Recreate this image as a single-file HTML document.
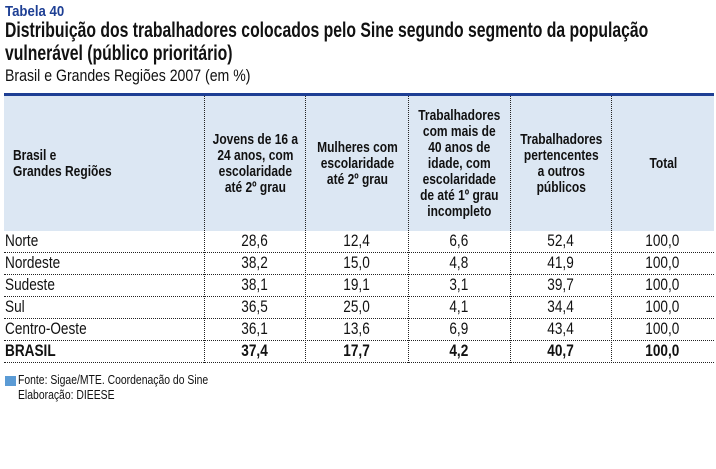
<!DOCTYPE html>
<html><head><meta charset="utf-8"><style>
*{margin:0;padding:0}
body{width:716px;height:469px;background:#fff;position:relative;overflow:hidden;font-family:"Liberation Sans",sans-serif;color:#111}
.a{position:absolute;white-space:nowrap;transform-origin:0 0}
.hd{position:absolute;top:96px;height:135px;background:#dce7f3;left:4px;width:710px}
.vl{position:absolute;top:96px;height:267px;border-left:1px dotted #222}
.hl{position:absolute;left:4px;width:710px;border-top:1px dotted #222}
.h{position:absolute;text-align:center;font-weight:bold;font-size:15px;line-height:16px;display:flex;align-items:center;justify-content:center;top:96px;height:135px;white-space:nowrap}
.h>div{transform:scaleX(.8)}
.r{position:absolute;font-size:17px;height:22px;line-height:22px;white-space:nowrap}
.r>i{font-style:normal;display:inline-block;transform:scaleX(.8);transform-origin:0 50%}
.n{text-align:center}
.n>i{transform-origin:50% 50%}
</style></head><body>
<div class="a" style="left:5px;top:3px;font-size:15px;font-weight:bold;color:#1e3f94;transform:scaleX(.88)">Tabela 40</div>
<div class="a" style="left:5px;top:19px;font-size:21px;font-weight:bold;line-height:23px;transform:scaleX(.75)">Distribuição dos trabalhadores colocados pelo Sine segundo segmento da população<br>vulnerável (público prioritário)</div>
<div class="a" style="left:5px;top:66px;font-size:17px;transform:scaleX(.83)">Brasil e Grandes Regiões 2007 (em %)</div>
<div class="a" style="left:4px;top:93px;width:710px;height:3px;background:#1e3f94"></div>
<div class="hd"></div>
<div class="vl" style="left:204px"></div>
<div class="vl" style="left:305px"></div>
<div class="vl" style="left:408px"></div>
<div class="vl" style="left:510px"></div>
<div class="vl" style="left:611px"></div>
<div class="h" style="left:13px;width:190px;justify-content:flex-start;text-align:left"><div style="transform-origin:0 50%">Brasil e<br>Grandes Regiões</div></div>
<div class="h" style="left:205px;width:100px"><div>Jovens de 16 a<br>24 anos, com<br>escolaridade<br>até 2º grau</div></div>
<div class="h" style="left:306px;width:102px"><div>Mulheres com<br>escolaridade<br>até 2º grau</div></div>
<div class="h" style="left:409px;width:101px"><div>Trabalhadores<br>com mais de<br>40 anos de<br>idade, com<br>escolaridade<br>de até 1º grau<br>incompleto</div></div>
<div class="h" style="left:511px;width:100px"><div>Trabalhadores<br>pertencentes<br>a outros<br>públicos</div></div>
<div class="h" style="left:612px;width:102px"><div>Total</div></div>
<div class="hl" style="top:252px"></div>
<div class="hl" style="top:274px"></div>
<div class="hl" style="top:296px"></div>
<div class="hl" style="top:318px"></div>
<div class="hl" style="top:340px"></div>
<div class="hl" style="top:362px"></div>
<div style="position:absolute;left:0;top:230px;width:716px">
<div style="position:relative;height:22px"><span class="r" style="left:5px"><i>Norte</i></span><span class="r n" style="left:204px;width:101px"><i>28,6</i></span><span class="r n" style="left:305px;width:103px"><i>12,4</i></span><span class="r n" style="left:408px;width:102px"><i>6,6</i></span><span class="r n" style="left:510px;width:101px"><i>52,4</i></span><span class="r n" style="left:611px;width:103px"><i>100,0</i></span></div>
<div style="position:relative;height:22px"><span class="r" style="left:5px"><i>Nordeste</i></span><span class="r n" style="left:204px;width:101px"><i>38,2</i></span><span class="r n" style="left:305px;width:103px"><i>15,0</i></span><span class="r n" style="left:408px;width:102px"><i>4,8</i></span><span class="r n" style="left:510px;width:101px"><i>41,9</i></span><span class="r n" style="left:611px;width:103px"><i>100,0</i></span></div>
<div style="position:relative;height:22px"><span class="r" style="left:5px"><i>Sudeste</i></span><span class="r n" style="left:204px;width:101px"><i>38,1</i></span><span class="r n" style="left:305px;width:103px"><i>19,1</i></span><span class="r n" style="left:408px;width:102px"><i>3,1</i></span><span class="r n" style="left:510px;width:101px"><i>39,7</i></span><span class="r n" style="left:611px;width:103px"><i>100,0</i></span></div>
<div style="position:relative;height:22px"><span class="r" style="left:5px"><i>Sul</i></span><span class="r n" style="left:204px;width:101px"><i>36,5</i></span><span class="r n" style="left:305px;width:103px"><i>25,0</i></span><span class="r n" style="left:408px;width:102px"><i>4,1</i></span><span class="r n" style="left:510px;width:101px"><i>34,4</i></span><span class="r n" style="left:611px;width:103px"><i>100,0</i></span></div>
<div style="position:relative;height:22px"><span class="r" style="left:5px"><i>Centro-Oeste</i></span><span class="r n" style="left:204px;width:101px"><i>36,1</i></span><span class="r n" style="left:305px;width:103px"><i>13,6</i></span><span class="r n" style="left:408px;width:102px"><i>6,9</i></span><span class="r n" style="left:510px;width:101px"><i>43,4</i></span><span class="r n" style="left:611px;width:103px"><i>100,0</i></span></div>
<div style="position:relative;height:22px;font-weight:bold"><span class="r" style="left:5px"><i>BRASIL</i></span><span class="r n" style="left:204px;width:101px"><i>37,4</i></span><span class="r n" style="left:305px;width:103px"><i>17,7</i></span><span class="r n" style="left:408px;width:102px"><i>4,2</i></span><span class="r n" style="left:510px;width:101px"><i>40,7</i></span><span class="r n" style="left:611px;width:103px"><i>100,0</i></span></div>
</div>
<div class="a" style="left:5px;top:376px;width:11px;height:10px;background:#5b9bd5"></div>
<div class="a" style="left:18px;top:372px;font-size:13px;line-height:15px;transform:scaleX(.8)">Fonte: Sigae/MTE. Coordenação do Sine<br>Elaboração: DIEESE</div>
</body></html>
